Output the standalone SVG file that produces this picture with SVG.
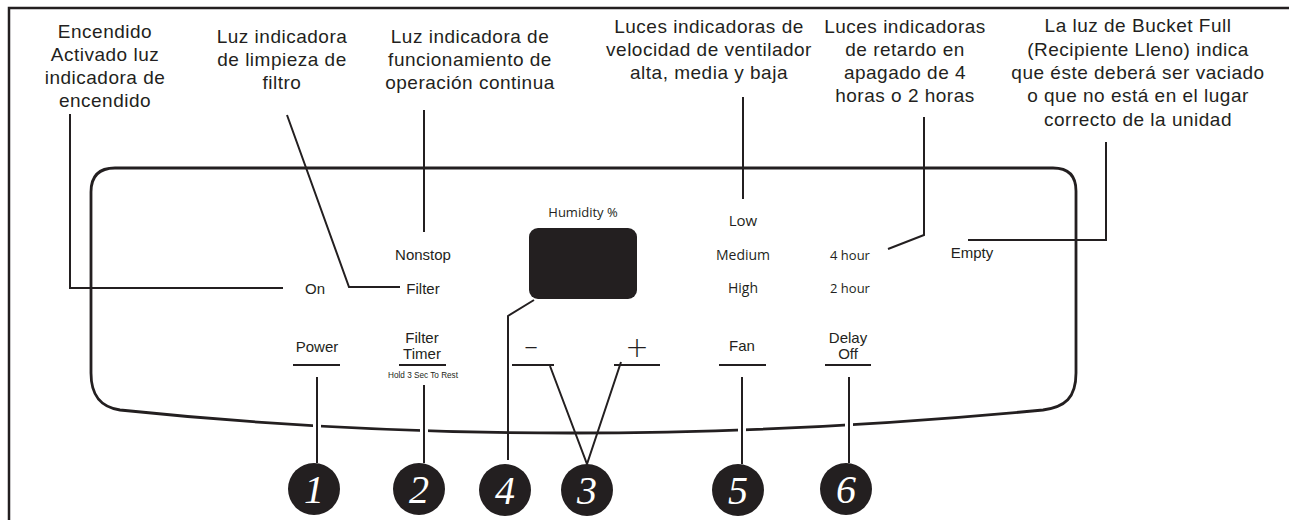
<svg xmlns="http://www.w3.org/2000/svg" width="1289" height="520" viewBox="0 0 1289 520">
<style>
.lbl{font-family:"Liberation Sans",Arial,sans-serif;font-size:19px;letter-spacing:0.5px;fill:#231f20;text-anchor:middle}
.pl{font-family:"Liberation Sans",Arial,sans-serif;font-size:15px;fill:#231f20;text-anchor:middle}
.ge{font-family:"Open Sans","Noto Sans",sans-serif;font-weight:500;fill:#231f20;text-anchor:middle}
.ln{stroke:#231f20;stroke-width:2;fill:none}
.halo{stroke:#fff;stroke-width:8;fill:none}
.ul{stroke:#231f20;stroke-width:2}
.num{fill:#231f20}
.nt{font-family:"Liberation Serif","Times New Roman",serif;font-style:italic;font-size:40px;fill:#fff;text-anchor:middle}
</style>
<rect width="1289" height="520" fill="#fff"/>
<path d="M 9 520 V 8 H 1289" stroke="#231f20" stroke-width="2.5" fill="none"/>
<g id="panel">
<path d="M 115 168 H 1053 Q 1076 168 1076 191 V 373 C 1076 398 1065 407 1043 410 Q 560 456 120 410 C 100 407 91 395 91 373 V 192 Q 91 168 115 168 Z" stroke="#231f20" stroke-width="2.8" fill="none"/>
</g>
<g id="callouts">
<g id="t1"><text class="lbl" x="105" y="38">Encendido</text><text class="lbl" x="105" y="61">Activado luz</text><text class="lbl" x="105" y="84">indicadora de</text><text class="lbl" x="105" y="107">encendido</text></g>
<g id="t2"><text class="lbl" x="282" y="43">Luz indicadora</text><text class="lbl" x="282" y="66">de limpieza de</text><text class="lbl" x="282" y="89">filtro</text></g>
<g id="t3"><text class="lbl" x="470" y="43">Luz indicadora de</text><text class="lbl" x="470" y="66">funcionamiento de</text><text class="lbl" x="470" y="89">operación continua</text></g>
<g id="t4"><text class="lbl" x="709" y="33">Luces indicadoras de</text><text class="lbl" x="709" y="56">velocidad de ventilador</text><text class="lbl" x="709" y="79">alta, media y baja</text></g>
<g id="t5"><text class="lbl" x="905" y="33">Luces indicadoras</text><text class="lbl" x="905" y="56">de retardo en</text><text class="lbl" x="905" y="79">apagado de 4</text><text class="lbl" x="905" y="102">horas o 2 horas</text></g>
<g id="t6"><text class="lbl" x="1138" y="32">La luz de Bucket Full</text><text class="lbl" x="1138" y="55.5">(Recipiente Lleno) indica</text><text class="lbl" x="1138" y="79">que éste deberá ser vaciado</text><text class="lbl" x="1138" y="102">o que no está en el lugar</text><text class="lbl" x="1138" y="125.5">correcto de la unidad</text></g>
</g>
<g id="indicators">
<text class="pl" x="315" y="294">On</text>
<text class="pl" x="423" y="294">Filter</text>
<text class="pl" x="423" y="260">Nonstop</text>
<text class="pl" x="972" y="258">Empty</text>
<text class="ge" x="583" y="217" font-size="13">Humidity %</text>
<rect x="529" y="228" width="108" height="71" rx="9" fill="#231f20"/>
<text class="ge" x="743" y="226" font-size="15">Low</text>
<text class="ge" x="743" y="260" font-size="14">Medium</text>
<text class="ge" x="743" y="293" font-size="14">High</text>
<text class="ge" x="850" y="260" font-size="13">4 hour</text>
<text class="ge" x="850" y="293" font-size="13">2 hour</text>
</g>
<g id="buttons">
<text class="pl" x="317" y="352">Power</text>
<line class="ul" x1="293" y1="365" x2="340" y2="365"/>
<text class="pl" x="422" y="343">Filter</text>
<text class="pl" x="422" y="359">Timer</text>
<line class="ul" x1="399" y1="365" x2="446" y2="365"/>
<text x="388" y="378" font-family="Liberation Sans,sans-serif" font-size="9.5" fill="#231f20" textLength="70" lengthAdjust="spacingAndGlyphs">Hold 3 Sec To Rest</text>
<text x="531" y="353" font-family="Liberation Sans,sans-serif" font-size="20" fill="#231f20" text-anchor="middle">–</text>
<line class="ul" x1="512" y1="365" x2="554" y2="365"/>
<text x="637" y="357" font-family="DejaVu Sans,sans-serif" font-weight="200" font-size="28" fill="#231f20" text-anchor="middle">+</text>
<line class="ul" x1="614" y1="365" x2="660" y2="365"/>
<text class="pl" x="742" y="351">Fan</text>
<line class="ul" x1="719" y1="365" x2="766" y2="365"/>
<text class="pl" x="848" y="343">Delay</text>
<text class="pl" x="848" y="359">Off</text>
<line class="ul" x1="825" y1="365" x2="871" y2="365"/>
</g>
<g id="connectors">
<line class="halo" x1="317" y1="418" x2="317" y2="438"/>
<line class="halo" x1="424" y1="420" x2="424" y2="442"/>
<line class="halo" x1="742" y1="416" x2="742" y2="436"/>
<line class="halo" x1="849" y1="412" x2="849" y2="432"/>
<polyline class="ln" points="70,114 70,288 283,288"/>
<polyline class="ln" points="287,115 349,287 400,287"/>
<line class="ln" x1="424" y1="110" x2="424" y2="232"/>
<line class="ln" x1="743" y1="97" x2="743" y2="199"/>
<polyline class="ln" points="924,117 924,235 888,249"/>
<polyline class="ln" points="1106,142 1106,240 968,240"/>
<polyline class="ln" points="534,300 508,316 508,460"/>
<line class="ln" x1="317" y1="377" x2="317" y2="463"/>
<line class="ln" x1="424" y1="385" x2="424" y2="463"/>
<polyline class="ln" points="550,366 587,464 621,362"/>
<line class="ln" x1="742" y1="377" x2="742" y2="464"/>
<line class="ln" x1="849" y1="377" x2="849" y2="463"/>
</g>
<g id="n1"><circle class="num" cx="314" cy="489" r="26"/><text class="nt" x="314" y="503">1</text></g>
<g id="n2"><circle class="num" cx="419" cy="489" r="26"/><text class="nt" x="419" y="503">2</text></g>
<g id="n4"><circle class="num" cx="505" cy="490" r="26"/><text class="nt" x="505" y="504">4</text></g>
<g id="n3"><circle class="num" cx="587" cy="490" r="26"/><text class="nt" x="587" y="504">3</text></g>
<g id="n5"><circle class="num" cx="738" cy="490" r="26"/><text class="nt" x="738" y="504">5</text></g>
<g id="n6"><circle class="num" cx="846" cy="489" r="26"/><text class="nt" x="846" y="503">6</text></g>
</svg>
